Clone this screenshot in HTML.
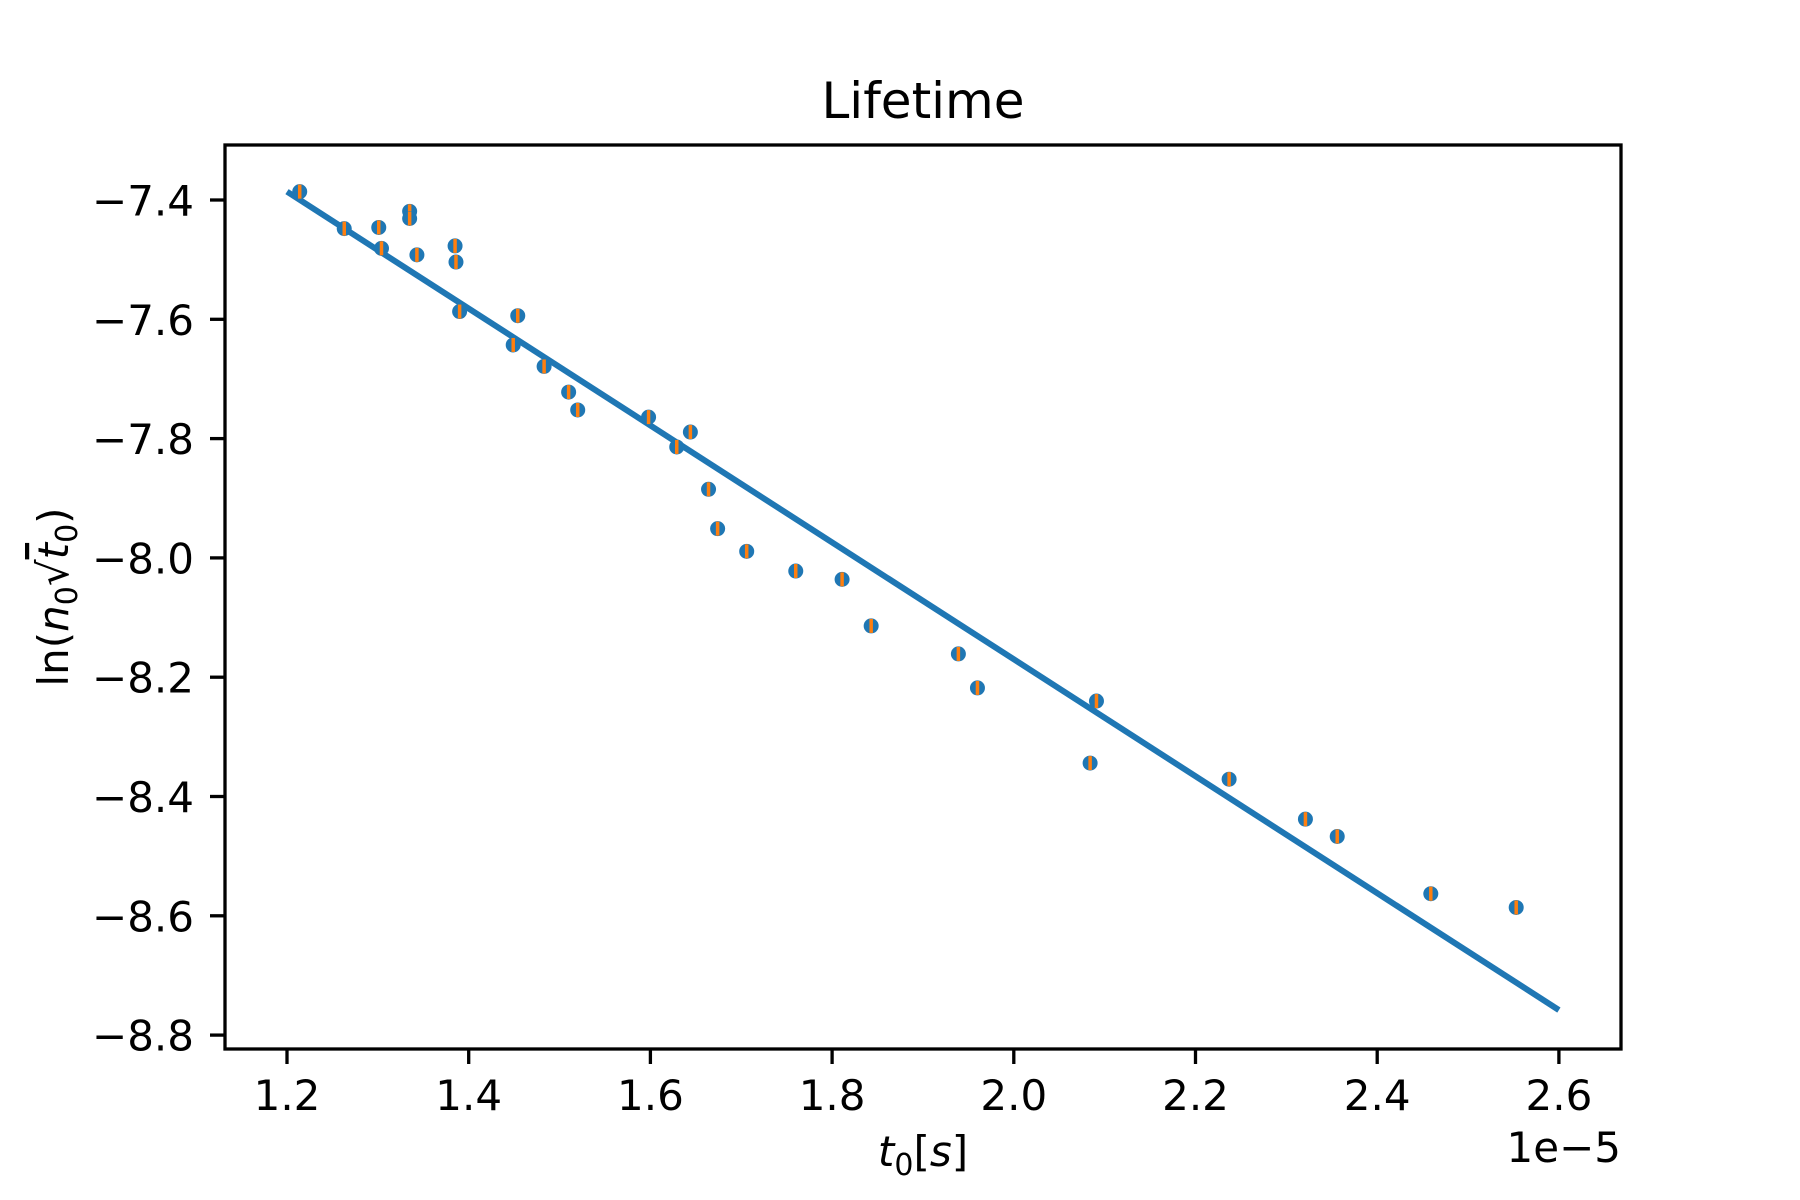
<!DOCTYPE html>
<html><head><meta charset="utf-8"><style>body{margin:0;background:#fff}svg{display:block}text{font-family:"DejaVu Sans","Liberation Sans",sans-serif;fill:#000}</style></head>
<body>
<svg id="chart" width="1800" height="1200" viewBox="0 0 1800 1200"></svg>
<script>
const xValues=[1.214,1.263,1.301,1.304,1.335,1.335,1.343,1.385,1.386,1.390,1.449,1.454,1.483,1.510,1.520,1.598,1.629,1.644,1.664,1.674,1.706,1.760,1.811,1.843,1.939,1.960,2.084,2.091,2.237,2.321,2.356,2.459,2.553];
const yValues=[-7.386,-7.448,-7.446,-7.481,-7.419,-7.431,-7.492,-7.477,-7.504,-7.587,-7.643,-7.594,-7.679,-7.722,-7.752,-7.764,-7.814,-7.789,-7.885,-7.951,-7.989,-8.022,-8.036,-8.114,-8.161,-8.218,-8.344,-8.240,-8.371,-8.438,-8.467,-8.563,-8.586];
const fitX=[1.2,2.6];
const fitY=[-7.386,-8.758];
const xTicks=[1.2,1.4,1.6,1.8,2.0,2.2,2.4,2.6];
const yTicks=[-7.4,-7.6,-7.8,-8.0,-8.2,-8.4,-8.6,-8.8];
const NS='http://www.w3.org/2000/svg';
const svg=document.getElementById('chart');
const L=225,R=1621,T=145,B=1049;
function sx(v){return 287+(v-1.2)/0.2*181.7;}
function sy(v){return 200+(-7.4-v)/0.2*119.3;}
function mk(tag,attrs,parent){const e=document.createElementNS(NS,tag);for(const k in attrs)e.setAttribute(k,attrs[k]);(parent||svg).appendChild(e);return e;}
let t=mk('text',{x:(L+R)/2,y:118,'font-size':50,'text-anchor':'middle'});t.textContent='Lifetime';


xTicks.forEach(v=>{const x=sx(v);
const l=mk('line',{x1:x,x2:x,y1:B,y2:B+15,stroke:'#000','stroke-width':3.3});


const tx=mk('text',{x:x,y:1110,'font-size':42,'text-anchor':'middle'});tx.textContent=v.toFixed(1);

});
yTicks.forEach(v=>{const y=sy(v);
const l=mk('line',{x1:L-15,x2:L,y1:y,y2:y,stroke:'#000','stroke-width':3.3});


const tx=mk('text',{x:L-31,y:y+15.5,'font-size':42,'text-anchor':'end'});tx.textContent=(v<0?'\u2212':'')+Math.abs(v).toFixed(1);

});
const fit=mk('line',{x1:sx(fitX[0]),y1:sy(fitY[0]),x2:sx(fitX[1]),y2:sy(fitY[1]),stroke:'#1f77b4','stroke-width':6});


xValues.forEach((v,i)=>{const x=sx(v),y=sy(yValues[i]);
const c=mk('circle',{cx:x,cy:y,r:7.5,fill:'#1f77b4'});


const e=mk('line',{x1:x,x2:x,y1:y-7,y2:y+7,stroke:'#ff7f0e','stroke-width':3.5});

});
const fr=mk('rect',{x:L,y:T,width:R-L,height:B-T,fill:'none',stroke:'#000','stroke-width':3.3});


const xl=mk('text',{x:(L+R)/2,y:1166,'font-size':42,'text-anchor':'middle'});
xl.innerHTML='<tspan font-style="italic">t</tspan><tspan font-size="30" dy="9">0</tspan><tspan dy="-9">[</tspan><tspan font-style="italic">s</tspan>]';


const off=mk('text',{x:R,y:1162,'font-size':42,'text-anchor':'end'});off.textContent='1e\u22125';


const yl=mk('text',{x:0,y:0,'font-size':42,'text-anchor':'middle',transform:'translate(68,597) rotate(-90)'});
yl.innerHTML='ln(<tspan font-style="italic">n</tspan><tspan font-size="30" dy="9">0</tspan><tspan dy="-9">\u221A</tspan><tspan font-style="italic" text-decoration="overline">t</tspan><tspan font-size="30" dy="9">0</tspan><tspan dy="-9">)</tspan>';


</script>
</body></html>
